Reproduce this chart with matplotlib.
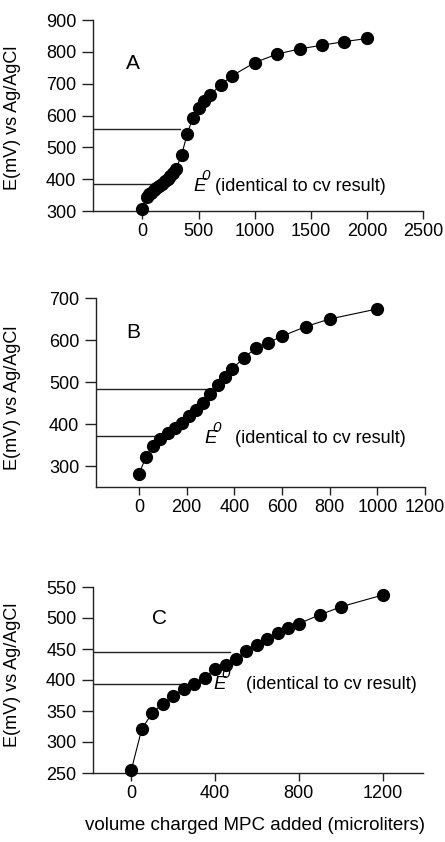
import matplotlib
matplotlib.use('Agg')
import matplotlib.pyplot as plt
from matplotlib.transforms import offset_copy

plt.rcParams['font.family'] = ['Liberation Sans', 'DejaVu Sans']

# titration curves: volume of charged MPC added (uL) vs potential (mV)
volA = [0, 40, 60, 80, 100, 125, 150, 175, 200, 225, 250, 275, 300, 350, 400,
        450, 500, 550, 600, 700, 800, 1000, 1200, 1400, 1600, 1800, 2000]
eA = [307, 344, 352, 358, 365, 372, 379, 386, 393, 401, 409, 418, 432, 477, 543,
      593, 622, 645, 663, 697, 725, 766, 793, 809, 821, 832, 842]

volB = [0, 30, 60, 90, 120, 150, 180, 210, 240, 270, 300, 330, 360, 390, 440,
        490, 540, 600, 700, 800, 1000]
eB = [281, 322, 348, 364, 378, 390, 403, 418, 434, 450, 471, 493, 513, 531, 557,
      581, 593, 609, 632, 650, 674]

volC = [0, 50, 100, 150, 200, 250, 300, 350, 400, 450, 500, 550, 600, 650, 700,
        750, 800, 900, 1000, 1200]
eC = [255, 321, 347, 362, 374, 385, 393, 404, 418, 424, 434, 447, 456, 466, 476,
      484, 491, 505, 518, 537]

# reference levels (potential, end of line in uL)
refA = [(559, 335), (384, 98)]
refB = [(483, 290), (372, 73)]
refC = [(445, 470), (393, 263)]

W, H = 445, 842
fig = plt.figure(figsize=(W / 100, H / 100), dpi=100)


def rect(l, r, t, b):
    return [l / W, 1 - b / H, (r - l) / W, (b - t) / H]


panels = [
    dict(name='A', x=volA, y=eA, ref=refA, box=rect(93, 423, 20, 211),
         xlim=(-440, 2500), ylim=(300, 900), xt=range(0, 2501, 500), yt=range(300, 901, 100),
         E=(456, 362), txt=(650, 362), lab=(-150, 745), ly=0.49),
    dict(name='B', x=volB, y=eB, ref=refB, box=rect(96, 425, 298, 487),
         xlim=(-180, 1200), ylim=(250, 700), xt=range(0, 1201, 200), yt=range(300, 701, 100),
         E=(276, 355), txt=(402, 355), lab=(-52, 605), ly=0.47),
    dict(name='C', x=volC, y=eC, ref=refC, box=rect(93, 423, 587, 773),
         xlim=(-183, 1393), ylim=(250, 550), xt=range(0, 1201, 400), yt=range(250, 551, 50),
         E=(393, 385), txt=(549, 385), lab=(97, 491), ly=0.53),
]

for p in panels:
    ax = fig.add_axes(p['box'])
    for yv, xe in p['ref']:
        ax.plot([p['xlim'][0], xe], [yv, yv], color='#222222', lw=1.0, zorder=1)
    ax.plot(p['x'], p['y'], '-', color='black', lw=0.8, marker='o', ms=8.5,
            mfc='black', mec='black', zorder=3, clip_on=False)
    ax.set_xlim(*p['xlim'])
    ax.set_ylim(*p['ylim'])
    ax.set_xticks(list(p['xt']))
    ax.set_yticks(list(p['yt']))
    for s in ('top', 'right'):
        ax.spines[s].set_visible(False)
    for s in ('left', 'bottom'):
        ax.spines[s].set_linewidth(1.0)
        ax.spines[s].set_color('#222222')
    ax.tick_params(axis='both', direction='out', width=1.0,
                   color='#222222', labelsize=13)
    ax.tick_params(axis='y', length=8, pad=4)
    ax.tick_params(axis='x', length=6, pad=3)
    ax.set_ylabel('E(mV) vs Ag/AgCl', fontsize=13, va='center')
    box_l = p['box'][0] * W
    box_w = p['box'][2] * W
    ax.yaxis.set_label_coords(-(box_l - 13) / box_w, p['ly'])

    ax.text(p['lab'][0], p['lab'][1], p['name'], fontsize=15)

    # formal potential marker: italic E with a raised italic zero
    xe, ye = p['E']
    ax.text(xe, ye, 'E', fontsize=13.5, style='italic', va='baseline', zorder=4)
    sup = offset_copy(ax.transData, fig=fig, x=8, y=11, units='dots')
    ax.text(xe, ye, '0', fontsize=11, style='italic', va='baseline',
            transform=sup, zorder=4)
    ax.text(p['txt'][0], p['txt'][1], '(identical to cv result)', fontsize=13,
            va='baseline', zorder=4)

fig.text(255 / W, 1 - 825 / H, 'volume charged MPC added (microliters)',
         fontsize=13.5, ha='center', va='center')

fig.savefig('out.png', dpi=100)
